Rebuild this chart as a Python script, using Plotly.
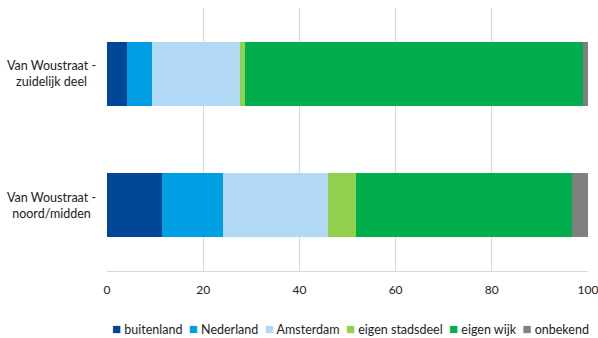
import plotly.graph_objects as go

categories = ["Van Woustraat -<br>zuidelijk deel", "Van Woustraat -<br>noord/midden"]
series_names = ["buitenland", "Nederland", "Amsterdam", "eigen stadsdeel", "eigen wijk", "onbekend"]
buitenland = [4.2, 11.4]
nederland = [5.2, 12.7]
amsterdam = [18.2, 21.8]
eigen_stadsdeel = [1.1, 5.9]
eigen_wijk = [70.3, 44.8]
onbekend = [1.0, 3.4]
x_ticks = [0, 20, 40, 60, 80, 100]

colors = ["#004699", "#009FE3", "#B1D9F5", "#92D050", "#00AE4D", "#808080"]
values = [buitenland, nederland, amsterdam, eigen_stadsdeel, eigen_wijk, onbekend]

font_family = "Lato, 'Open Sans', sans-serif"
text_color = "#222222"

fig = go.Figure()
for name, vals, col in zip(series_names, values, colors):
    fig.add_trace(go.Bar(
        y=categories, x=vals, name=name, orientation="h",
        marker=dict(color=col, line=dict(width=0)),
        showlegend=False,
    ))

for cat in categories:
    fig.add_annotation(
        x=0, xref="paper", xanchor="right", xshift=-9,
        y=cat, yref="y", text=cat, showarrow=False, align="center",
        font=dict(family=font_family, size=12.5, color=text_color),
    )

# legend drawn as one line of text with coloured squares
legend_text = "&nbsp;&nbsp;".join(
    f"<span style='color:{c};font-size:15px'>■</span>&nbsp;{n}" for n, c in zip(series_names, colors)
)
fig.add_annotation(
    x=0.507, xref="paper", xanchor="center",
    y=-0.217, yref="paper", yanchor="middle",
    text=legend_text, showarrow=False,
    font=dict(family=font_family, size=12.5, color=text_color),
)

fig.update_layout(
    barmode="stack",
    width=598, height=338,
    margin=dict(l=107, r=10, t=8, b=67, autoexpand=False),
    plot_bgcolor="white", paper_bgcolor="white",
    bargap=0.51,
    showlegend=False,
    font=dict(family=font_family, size=12, color=text_color),
    xaxis=dict(
        range=[0, 100], tickvals=x_ticks, showgrid=True, gridcolor="#D9D9D9",
        gridwidth=1, zeroline=False, showline=True, linecolor="#D9D9D9",
        ticks="", ticklen=0, tickfont=dict(size=12, color=text_color),
        ticklabelstandoff=8,
        ticklabeloverflow="allow", automargin=False, fixedrange=True,
    ),
    yaxis=dict(
        autorange="reversed", showticklabels=False, showgrid=False,
        zeroline=False, showline=False, fixedrange=True, automargin=False,
    ),
)

fig.write_html("out.html")
